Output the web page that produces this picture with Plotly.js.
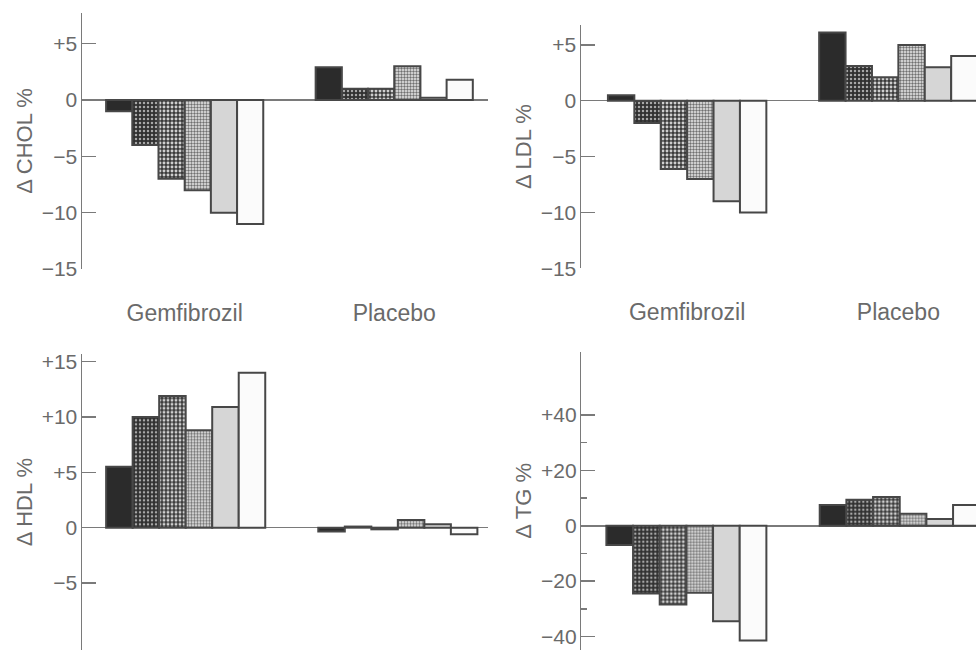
<!DOCTYPE html>
<html>
<head>
<meta charset="utf-8">
<script src="https://cdn.plot.ly/plotly-3.0.1.min.js"></script>
<style>html,body{margin:0;padding:0;background:#fff;}#chart{width:976px;height:650px;}</style>
</head>
<body>
<div id="chart"></div>
<script>
// ---- data ----
const groups = ['Gemfibrozil', 'Placebo'];
const cholGem = [-1, -4, -7, -8, -10, -11];
const cholPlacebo = [2.9, 1, 1, 3, 0.2, 1.8];
const ldlGem = [0.5, -2, -6.1, -7, -9, -10];
const ldlPlacebo = [6.1, 3.1, 2.1, 5, 3, 4];
const hdlGem = [5.5, 10, 11.9, 8.8, 10.9, 14];
const hdlPlacebo = [-0.35, 0.1, -0.15, 0.7, 0.3, -0.6];
const tgGem = [-7, -24.5, -28.5, -24.2, -34.5, -41.5];
const tgPlacebo = [7.5, 9.4, 10.4, 4.3, 2.4, 7.5];

const cholTicks = [5, 0, -5, -10, -15];
const cholTickText = ['+5', '0', '\u22125', '\u221210', '\u221215'];
const ldlTicks = [5, 0, -5, -10, -15];
const ldlTickText = ['+5', '0', '\u22125', '\u221210', '\u221215'];
const hdlTicks = [15, 10, 5, 0, -5];
const hdlTickText = ['+15', '+10', '+5', '0', '\u22125'];
const tgTicks = [40, 20, 0, -20, -40];
const tgTickText = ['+40', '+20', '0', '\u221220', '\u221240'];
const tgMinorTicks = [30, 10, -10, -30];

// ---- styles ----
const outline = '#474747';
const axisColor = '#7a7a7a';
const textColor = '#6a6a6a';
const fontFamily = 'Liberation Sans, Arial, sans-serif';
const styles = [
  {color: '#2b2b2b', pattern: {shape: ''}},
  {color: '#3c3c3c', pattern: {shape: '.', bgcolor: '#303030', fgcolor: '#a8a8a8', size: 4, solidity: 0.3}},
  {color: '#555555', pattern: {shape: '.', bgcolor: '#3a3a3a', fgcolor: '#cfcfcf', size: 4, solidity: 0.42}},
  {color: '#bdbdbd', pattern: {shape: '.', bgcolor: '#ececec', fgcolor: '#707070', size: 3, solidity: 0.5}},
  {color: '#d6d6d6', pattern: {shape: ''}},
  {color: '#fbfbfb', pattern: {shape: ''}}
];
const placeboOffset = 8;

const panels = [
  {gem: cholGem, pla: cholPlacebo, xa: 'x', ya: 'y'},
  {gem: ldlGem, pla: ldlPlacebo, xa: 'x2', ya: 'y2'},
  {gem: hdlGem, pla: hdlPlacebo, xa: 'x3', ya: 'y3'},
  {gem: tgGem, pla: tgPlacebo, xa: 'x4', ya: 'y4'}
];

const traces = [];
panels.forEach(p => {
  for (let k = 0; k < 6; k++) {
    const s = styles[k];
    traces.push({
      type: 'bar',
      x: [k, k + placeboOffset],
      y: [p.gem[k], p.pla[k]],
      width: [1, 1],
      xaxis: p.xa, yaxis: p.ya,
      marker: {color: s.color, pattern: s.pattern, line: {color: outline, width: 2}},
      showlegend: false, hoverinfo: 'skip'
    });
  }
});

const groupCenters = [2.5, 2.5 + placeboOffset];

function yaxis(domain, range, tickvals, ticktext, title, extra) {
  return Object.assign({
    domain: domain, range: range, tickmode: 'array', tickvals: tickvals, ticktext: ticktext,
    showline: true, linecolor: axisColor, linewidth: 1.5,
    ticks: 'inside', ticklen: 14, tickwidth: 1.5, tickcolor: axisColor,
    zeroline: true, zerolinecolor: axisColor, zerolinewidth: 1.5,
    showgrid: false, fixedrange: true,
    tickfont: {family: fontFamily, size: 21, color: textColor},
    ticklabelstandoff: -1,
    title: {text: title, font: {family: fontFamily, size: 22, color: textColor}, standoff: 3}
  }, extra || {});
}
function xaxis(domain, range, anchor, showLabels) {
  return {
    domain: domain, range: range, anchor: anchor,
    showline: false, zeroline: false, showgrid: false, ticks: '', fixedrange: true,
    tickmode: 'array', tickvals: groupCenters, ticktext: groups,
    showticklabels: showLabels, ticklabelstandoff: 28,
    tickfont: {family: fontFamily, size: 23, color: textColor}
  };
}

const layout = {
  width: 976, height: 650,
  margin: {l: 0, r: 0, t: 0, b: 0},
  paper_bgcolor: '#ffffff', plot_bgcolor: 'rgba(0,0,0,0)',
  barmode: 'overlay', bargap: 0,
  xaxis: xaxis([82/976, 488/976], [-1.42, 14.08], 'y', true),
  yaxis: yaxis([1 - 269/650, 1 - 13/650], [-15, 7.72], cholTicks, cholTickText, '\u0394 CHOL %', {anchor: 'x'}),
  xaxis2: xaxis([581/976, 1], [-1.52, 13.44], 'y2', true),
  yaxis2: yaxis([1 - 268.3/650, 1 - 25/650], [-15, 6.78], ldlTicks, ldlTickText, '\u0394 LDL %', {anchor: 'x2'}),
  xaxis3: xaxis([82/976, 488/976], [-1.41, 13.9], 'y3', false),
  yaxis3: yaxis([0, 1 - 354.3/650], [-11.05, 15.66], hdlTicks, hdlTickText, '\u0394 HDL %', {anchor: 'x3'}),
  xaxis4: xaxis([581.3/976, 1], [-1.44, 13.36], 'y4', false),
  yaxis4: yaxis([0, 1 - 351.7/650], [-44.9, 62.9], tgTicks, tgTickText, '\u0394 TG %',
    {anchor: 'x4', minor: {tickmode: 'array', tickvals: tgMinorTicks, ticks: 'inside', ticklen: 6, tickwidth: 1.5, tickcolor: axisColor, showgrid: false}})
};

Plotly.newPlot('chart', traces, layout, {displayModeBar: false, staticPlot: true});
</script>
</body>
</html>
